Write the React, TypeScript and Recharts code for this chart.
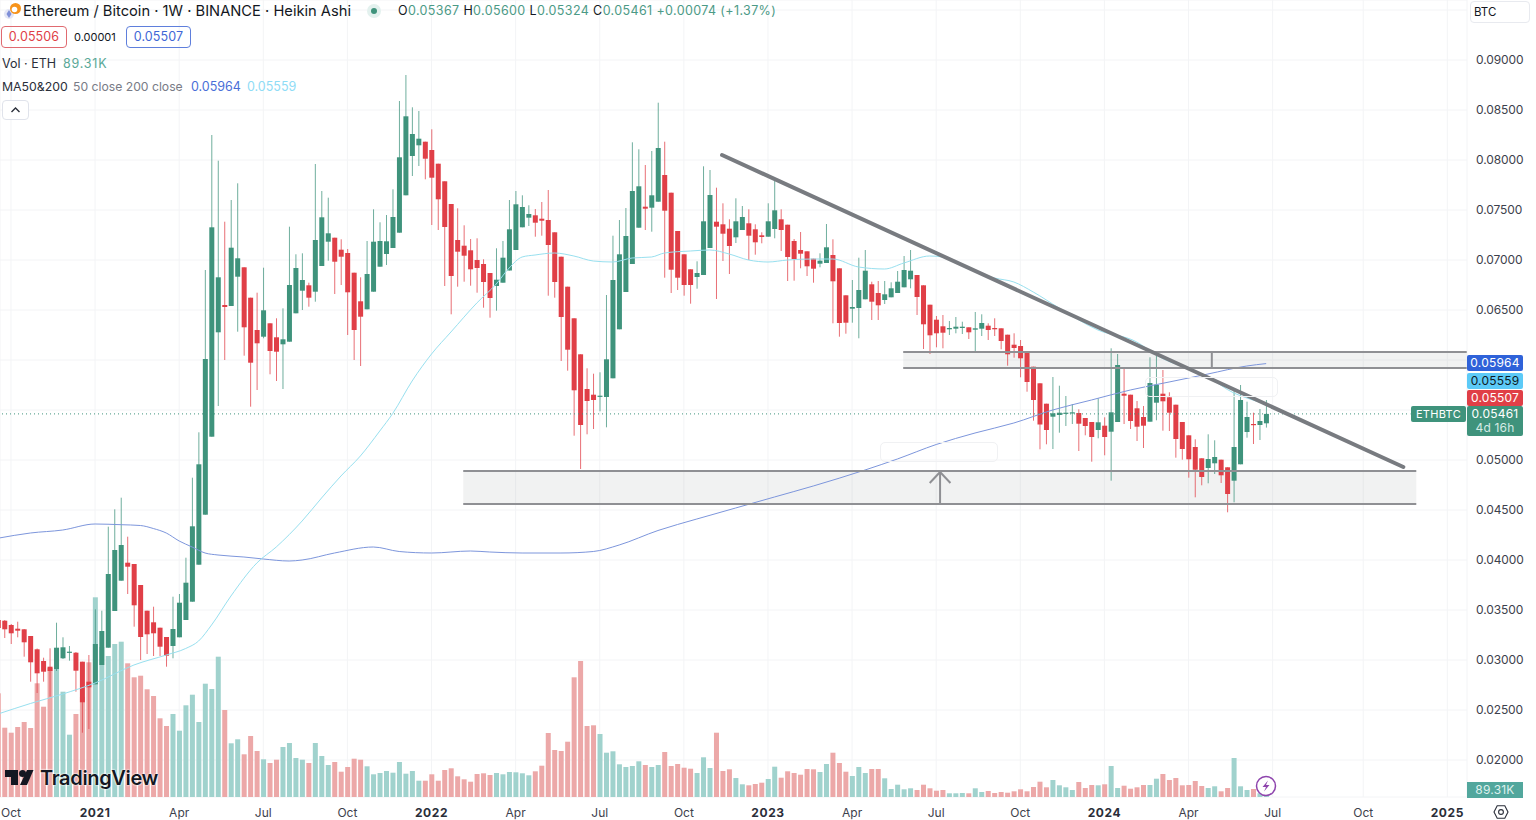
import React from "react";
import { ComposedChart, Bar, Line, XAxis, YAxis, CartesianGrid, ReferenceLine, ReferenceArea } from "recharts";

// Prices below are stored in units of 0.00001 BTC, one entry per week, first week = -1
const firstWeek = -1;
const opens = [3400,
3393,3350,3313,3307,3240,3107,2990,2933,2910,3017,
3073,3073,2983,2783,2757,2950,3123,3490,3793,3973,
3960,3750,3493,3377,3323,3230,3140,3227,3400,3583,
3953,4453,5233,6277,6550,6540,6833,6927,6623,6300,
6233,6367,6227,6157,6183,6467,6693,6747,6683,6940,
7183,7223,7103,7070,6873,6587,6507,6683,6933,7060,
7120,7273,7647,8040,8147,8183,8100,7963,7787,7560,
7200,7143,7097,7000,6960,6870,6740,6773,6895,7100,
7327,7423,7447,7413,7400,7277,7033,6733,6417,6057,
5710,5653,5633,5630,5817,6307,6680,6960,7323,7533,
7523,7583,7850,7673,7290,7057,6907,6830,6850,7120,
7383,7357,7313,7227,7300,7367,7307,7247,7233,7310,
7407,7353,7190,7100,7087,7013,6963,6970,7050,6917,
6647,6513,6520,6607,6757,6670,6600,6627,6670,6727,
6807,6850,6747,6553,6403,6337,6307,6313,6320,6327,
6303,6313,6343,6320,6317,6253,6153,6140,6077,5933,
5767,5563,5433,5450,5463,5467,5470,5420,5380,5300,
5343,5283,5380,5663,5653,5517,5430,5383,5573,5663,
5627,5553,5380,5247,5130,5017,4920,4967,5003,4927,
4793,4957,5280,5360,5350,5367];
const highs = [3480,
3400,3360,3383,3310,3240,3115,3023,3117,3373,3227,
3140,3080,2983,3050,3507,3493,4333,4507,4623,4233,
3960,3750,3493,3533,3323,3230,3633,3660,4023,4823,
5277,6900,8250,7993,7383,7600,7767,6927,6623,6673,
6923,6367,6417,6517,7333,7057,7067,6773,7960,7690,
7623,7223,7207,7110,6873,6827,7190,7507,7377,7450,
7707,8590,8850,8527,8490,8183,8307,7963,7787,7560,
7517,7347,7210,7217,7007,6870,7117,7190,7600,7690,
7647,7547,7510,7580,7700,7277,7033,6733,6417,6057,
5917,5863,5877,6650,7243,7400,7520,8177,8107,7950,
8090,8573,8183,7673,7290,7057,6907,6987,7937,7900,
7723,7567,7407,7617,7540,7507,7357,7277,7567,7800,
7507,7353,7210,7280,7087,7013,7067,7360,7207,6917,
6647,6800,7023,7100,6783,6790,6790,6777,6890,7040,
7100,6850,6747,6553,6440,6450,6390,6430,6383,6327,
6480,6457,6367,6417,6317,6253,6267,6200,6077,5933,
5767,5563,5830,5743,5640,5560,5507,5420,5380,5617,
5427,6117,6060,5927,5653,5590,5540,6027,6040,5900,
5677,5553,5380,5247,5207,5017,5257,5197,5003,4927,
5710,5750,5583,5473,5510,5600];
const lows = [3280,
3220,3160,3227,3033,2783,2670,2783,2633,2890,3010,
2993,2683,2273,2310,2757,2950,3123,3490,3793,3660,
3333,3000,3060,3040,3040,2933,3017,3227,3400,3583,
3953,4453,5233,5540,6000,6540,6283,6043,5533,5700,
6217,5857,5790,5710,6183,6467,6500,6533,6583,6940,
6993,6660,6750,6250,6000,5940,6507,6683,6933,6950,
7120,7273,7647,7840,7940,7807,7350,7300,6740,6457,
6733,6783,6743,6673,6523,6423,6493,6773,6895,7100,
7327,7340,7233,7243,6643,6623,5990,5893,5243,4910,
5257,5310,5487,5327,5817,6307,6680,6960,7323,7300,
7283,7583,6823,6670,6700,6643,6563,6713,6850,7120,
6610,6990,6860,7170,7300,7000,7053,7167,7233,7217,
7090,6790,6793,6917,6840,6773,6927,6970,6367,6233,
6263,6373,6217,6607,6400,6400,6560,6627,6670,6727,
6717,6450,6110,6060,6127,6117,6250,6267,6260,6210,
6077,6240,6200,6240,6107,5943,6023,5827,5683,5393,
5107,5157,5110,5273,5340,5360,5090,5247,4983,5217,
5047,4793,5380,5360,5310,5190,5120,5383,5397,5293,
5290,5023,5003,4823,4627,4747,4767,4860,4770,4477,
4577,4957,5223,5160,5200,5324];
const closes = [3320,
3307,3267,3293,3177,2977,2867,2883,2890,3123,3127,
3083,2893,2577,2727,3160,3290,3860,4100,4150,3933,
3547,3230,3257,3267,3133,3043,3310,3573,3773,4337,
4957,6010,7327,6827,6530,7123,7017,6327,5973,6167,
6497,6090,6083,6207,6750,6920,6800,6623,7200,7427,
7267,6983,7033,6677,6300,6433,6860,7183,7190,7187,
7430,8027,8437,8260,8213,8013,7823,7607,7330,6840,
7083,7043,6907,6920,6780,6620,6803,7023,7307,7557,
7530,7460,7373,7393,7150,6780,6430,6103,5697,5350,
5590,5600,5643,6007,6800,7057,7240,7690,7737,7513,
7647,8120,7493,6903,6823,6750,6750,6870,7387,7650,
7333,7263,7140,7387,7430,7243,7177,7230,7387,7497,
7300,7030,7010,7063,6937,6913,6993,7127,6787,6370,
6373,6530,6700,6893,6583,6547,6657,6717,6783,6900,
6893,6630,6357,6247,6267,6273,6320,6333,6333,6277,
6317,6370,6300,6307,6190,6057,6120,6017,5780,5600,
5355,5300,5467,5473,5473,5477,5363,5340,5230,5377,
5230,5477,5950,5643,5390,5333,5343,5770,5753,5587,
5473,5210,5110,5007,4903,4830,5010,5030,4847,4660,
5130,5600,5430,5350,5390,5461];
// Volume in thousands of ETH
const volumes = [3111,
2079,1929,2100,2250,2070,3411,2709,3870,3840,3159,
1869,2490,3000,4041,5991,4500,4230,4590,4659,4011,
3591,3639,3231,3030,2361,2130,2490,1989,2751,3069,
2250,3399,3240,4209,2610,1611,1731,1281,1830,1380,
1131,1020,1119,1500,1620,1170,1119,1020,1620,1230,
960,1050,759,900,1149,1119,921,681,720,780,
729,1050,699,780,489,489,681,489,810,861,
621,531,459,690,711,660,720,681,750,741,
711,651,771,939,1920,1410,1380,1659,3591,4080,
2130,2151,1890,1329,1371,981,900,930,1071,960,
900,960,1350,930,990,879,849,720,1191,870,
1929,780,831,570,381,351,390,429,540,909,
579,771,720,669,840,831,750,990,1329,1020,
759,630,900,720,840,840,561,240,369,231,
261,210,369,261,189,210,111,111,120,111,
261,150,180,120,150,129,171,231,171,300,
459,291,510,351,291,210,450,270,360,351,
381,930,270,339,249,291,360,360,549,690,
510,570,351,360,480,330,270,321,171,270,
1170,321,210,240,111,89.31];

// Moving averages as read at selected weeks
const maBlueWeeks = [-1,4,9,14,18,21,23,25,27,29,31,33,37,40,44,46,51,57,61,66,72,75,80,86,91,95,101,107,113,119,125,133,138,144,150,156,162,168,174,180,186,192,195];
const maBlueValues = [4218,4270,4300,4360,4353,4345,4315,4270,4190,4130,4070,4050,4030,4010,3990,4000,4070,4130,4085,4070,4090,4080,4070,4070,4085,4150,4295,4410,4520,4630,4740,4900,5010,5155,5270,5370,5500,5600,5700,5780,5860,5940,5964];
const maCyanWeeks = [-1,4,9,14,20,25,28,30,32,35,39,42,46,49,52,55,58,60,63,66,69,73,76,78,80,82,85,88,91,94,97,100,102,106,109,112,115,118,121,125,128,132,136,139,143,145,149,153,156,159,163,169,175,178,186,190,192,195];
const maCyanValues = [2460,2565,2660,2770,2950,3050,3115,3190,3350,3640,3970,4130,4390,4620,4840,5040,5290,5465,5790,6060,6280,6570,6760,6920,7030,7050,7070,7040,6990,6980,7020,7030,7070,7090,7100,7060,7000,6980,7000,7010,7010,6930,6910,6970,7040,7030,6910,6820,6780,6680,6520,6300,6180,6050,5830,5670,5620,5559];

const xTickWeeks = [1,14,27,40,53,66,79,92,105,118,131,144,157,170,183,196,210,223];
const xTickLabels = ["Oct","2021","Apr","Jul","Oct","2022","Apr","Jul","Oct","2023","Apr","Jul","Oct","2024","Apr","Jul","Oct","2025"];
const yTicks = [0.02,0.025,0.03,0.035,0.04,0.045,0.05,0.055,0.06,0.065,0.07,0.075,0.08,0.085,0.09,0.095];
// Grid levels whose axis label is covered by a price tag or the symbol button
const yTicksCovered = [0.055,0.06,0.095];

const candleTable = opens.map((o, k) => ({
  week: firstWeek + k,
  open: o / 1e5, high: highs[k] / 1e5, low: lows[k] / 1e5, close: closes[k] / 1e5,
  volume: volumes[k],
}));
const maBlueTable = maBlueWeeks.map((w, k) => ({ week: w, ma: maBlueValues[k] / 1e5 }));
const maCyanTable = maCyanWeeks.map((w, k) => ({ week: w, ma: maCyanValues[k] / 1e5 }));

const GREEN = "#3f937c";
const RED = "#e03f47";
const VOL_GREEN = "#a0d2cd";
const VOL_RED = "#eca8a8";
const DRAW = "#787b80";
const ZONE = "#8f9094";
const FONT = "Inter, 'Noto Sans', sans-serif";

const xDomain: [number, number] = [-0.6955, 226.04];
const priceDomain: [number, number] = [0.0163, 0.096];
const volDomain: [number, number] = [0, 23910];

function Candle(props: any) {
  const { x, y, width, height, payload } = props;
  const h = Math.abs(height);
  const top = height < 0 ? y + height : y;
  const { open, close, high, low } = payload;
  const ppu = h / (high - low);
  const bodyTop = top + (high - Math.max(open, close)) * ppu;
  const bodyH = Math.max(1.2, Math.abs(open - close) * ppu);
  const color = close >= open ? GREEN : RED;
  const cx = x + width / 2;
  return (
    <g>
      <line x1={cx} x2={cx} y1={top} y2={top + h} stroke={color} strokeOpacity={0.75} strokeWidth={1} />
      <rect x={x} y={bodyTop} width={width} height={bodyH} fill={color} />
    </g>
  );
}

function VolumeBar(props: any) {
  const { x, y, width, height, payload } = props;
  return <rect x={x} y={y} width={width} height={height} fill={payload.close >= payload.open ? VOL_GREEN : VOL_RED} />;
}

function XTick(props: any) {
  const { x, y, payload } = props;
  const label = xTickLabels[xTickWeeks.indexOf(payload.value)];
  const bold = /^\d+$/.test(label);
  return (
    <text x={x} y={y} dy={11.5} textAnchor="middle" fontFamily={FONT} fontSize={12} fontWeight={bold ? 700 : 400} fill={bold ? "#2a2e39" : "#3d414c"} letterSpacing={bold ? 0.6 : 0}>
      {label}
    </text>
  );
}

function YTick(props: any) {
  const { x, y, payload } = props;
  if (yTicksCovered.includes(payload.value)) return <g />;
  return (
    <text x={x} y={y} dy={3.6} textAnchor="start" fontFamily={FONT} fontSize={12} fill="#3d414c" letterSpacing={-0.1}>
      {Number(payload.value).toFixed(5)}
    </text>
  );
}

const box = (l: number, t: number, w: number, h: number, extra: any = {}): React.CSSProperties => ({
  position: "absolute", left: l, top: t, width: w, height: h, boxSizing: "border-box", ...extra,
});
const txt = (l: number, cy: number, size: number, color: string, extra: any = {}): React.CSSProperties => ({
  position: "absolute", left: l, top: cy - 10, height: 20, lineHeight: "20px", fontSize: size, color, whiteSpace: "nowrap", ...extra,
});
const priceBox = (t: number, h: number, bg: string, color: string, text: string) => (
  <div style={box(1467, t, 56, h, { background: bg, color, fontSize: 12, lineHeight: h + "px", textAlign: "center", borderRadius: 2, letterSpacing: 0.2 })}>{text}</div>
);

export default function App() {
  return (
    <div style={{ position: "absolute", left: 0, top: 0, width: 1536, height: 820, background: "#fff", overflow: "hidden", fontFamily: FONT }}>
      <ComposedChart width={1536} height={820} data={candleTable} margin={{ top: 0, right: 0, bottom: 0, left: 0 }}>
        <CartesianGrid stroke="#f3f4f6" strokeWidth={1} />
        <XAxis dataKey="week" type="number" domain={xDomain} allowDataOverflow ticks={xTickWeeks} interval={0} height={23} axisLine={false} tickLine={false} tick={<XTick />} />
        <XAxis xAxisId="volX" dataKey="week" type="number" domain={xDomain} allowDataOverflow hide />
        <YAxis orientation="right" type="number" domain={priceDomain} allowDataOverflow ticks={yTicks} interval={0} width={69} axisLine={false} tickLine={false} tickMargin={3} tick={<YTick />} />
        <YAxis yAxisId="volY" type="number" domain={volDomain} allowDataOverflow hide />

        <Bar xAxisId="volX" yAxisId="volY" dataKey="volume" barSize={5} shape={<VolumeBar />} isAnimationActive={false} />
        <Bar dataKey={(d: any) => [d.low, d.high]} barSize={5} shape={<Candle />} isAnimationActive={false} />

        <Line data={maBlueTable} dataKey="ma" type="monotone" stroke="#7d96dc" strokeWidth={1} dot={false} activeDot={false} isAnimationActive={false} />
        <Line data={maCyanTable} dataKey="ma" type="monotone" stroke="#98e0ef" strokeWidth={1} dot={false} activeDot={false} isAnimationActive={false} />

        <ReferenceLine stroke="#3f937c" strokeDasharray="1 3" segment={[{ x: -1, y: 0.05461 }, { x: 217.3, y: 0.05461 }]} ifOverflow="visible" />
        <ReferenceArea x1={138.9} x2={226} y1={0.0592} y2={0.0608} fill={ZONE} fillOpacity={0.12} stroke="none" />
        <ReferenceArea x1={70.9} x2={218.2} y1={0.0456} y2={0.0489} fill={ZONE} fillOpacity={0.12} stroke="none" />
        <ReferenceLine segment={[{ x: 138.9, y: 0.0608 }, { x: 226, y: 0.0608 }]} stroke={ZONE} strokeWidth={2} />
        <ReferenceLine segment={[{ x: 138.9, y: 0.0592 }, { x: 226, y: 0.0592 }]} stroke={ZONE} strokeWidth={2} />
        <ReferenceLine segment={[{ x: 70.9, y: 0.0489 }, { x: 218.2, y: 0.0489 }]} stroke={ZONE} strokeWidth={2} />
        <ReferenceLine segment={[{ x: 70.9, y: 0.0456 }, { x: 218.2, y: 0.0456 }]} stroke={ZONE} strokeWidth={2} />
        <ReferenceLine segment={[{ x: 186.6, y: 0.0608 }, { x: 186.6, y: 0.0592 }]} stroke={ZONE} strokeWidth={2} />
        <ReferenceLine segment={[{ x: 144.6, y: 0.0456 }, { x: 144.6, y: 0.0488 }]} stroke={ZONE} strokeWidth={2} />
        <ReferenceLine segment={[{ x: 143, y: 0.0477 }, { x: 144.6, y: 0.0488 }]} stroke={ZONE} strokeWidth={2} />
        <ReferenceLine segment={[{ x: 146.2, y: 0.0477 }, { x: 144.6, y: 0.0488 }]} stroke={ZONE} strokeWidth={2} />
        <ReferenceLine segment={[{ x: 110.9, y: 0.0805 }, { x: 216.2, y: 0.0493 }]} stroke={DRAW} strokeWidth={4} strokeLinecap="round" />
      </ComposedChart>

      {/* drawing text boxes */}
      <div style={box(880, 442, 118, 20, { border: "1px solid #f0f1f3", borderRadius: 5 })} />
      <div style={box(1145, 377, 133, 20, { border: "1px solid #f0f1f3", borderRadius: 5 })} />

      {/* legend */}
      <svg style={box(4, 2, 18, 20)} viewBox="0 0 18 20">
        <circle cx="5" cy="12" r="5" fill="#e4e6f5" />
        <path d="M5 8 L7.5 12 L5 16 L2.5 12 Z" fill="#7f8fd8" />
        <circle cx="11.5" cy="6.5" r="5.5" fill="#f7931a" />
        <circle cx="10.5" cy="7.5" r="2.8" fill="#fff" />
      </svg>
      <div style={txt(23, 11, 14.7, "#131722")}>Ethereum / Bitcoin · 1W · BINANCE · Heikin Ashi</div>
      <div style={box(367, 4, 14, 14, { borderRadius: 7, background: "#e3f1ee" })} />
      <div style={box(371, 8, 6, 6, { borderRadius: 3, background: "#3f937c" })} />
      <div style={txt(398, 11, 12.5, "#131722", { letterSpacing: 0.38 })}>
        O<span style={{ color: "#4c9a86" }}>0.05367</span>{" "}H<span style={{ color: "#4c9a86" }}>0.05600</span>{" "}
        L<span style={{ color: "#4c9a86" }}>0.05324</span>{" "}C<span style={{ color: "#4c9a86" }}>0.05461</span>{" "}
        <span style={{ color: "#4c9a86" }}>+0.00074 (+1.37%)</span>
      </div>
      <div style={box(1, 26, 66, 22, { border: "1px solid #e06a70", borderRadius: 4, color: "#e03f47", fontSize: 12.5, lineHeight: "20px", textAlign: "center", letterSpacing: 0.1 })}>0.05506</div>
      <div style={txt(74, 37, 11, "#131722")}>0.00001</div>
      <div style={box(126, 26, 65, 22, { border: "1px solid #5f7fdc", borderRadius: 4, color: "#3f67d6", fontSize: 12.5, lineHeight: "20px", textAlign: "center", letterSpacing: 0.1 })}>0.05507</div>
      <div style={txt(2, 64, 12.5, "#2a2e39")}>Vol · ETH</div>
      <div style={txt(63, 64, 12.5, "#5aa897", { letterSpacing: 0.8 })}>89.31K</div>
      <div style={txt(2, 87, 12.3, "#2a2e39")}>MA50&amp;200</div>
      <div style={txt(73, 87, 12.2, "#787b86")}>50 close 200 close</div>
      <div style={txt(191, 87, 12.5, "#4a6fd8")}>0.05964</div>
      <div style={txt(247, 87, 12.5, "#8fdcf6")}>0.05559</div>
      <div style={box(2, 100, 27, 20, { border: "1px solid #e0e3eb", borderRadius: 4, background: "#fff" })}>
        <svg width="25" height="18" viewBox="0 0 25 18"><path d="M8.5 11 L12.5 7 L16.5 11" fill="none" stroke="#2a2e39" strokeWidth="1.4" /></svg>
      </div>

      {/* top right symbol */}
      <div style={box(1470, 1, 60, 22, { border: "1px solid #e8eaef", borderRadius: 4, background: "#fff" })} />
      <div style={txt(1474, 12, 11.5, "#131722")}>BTC</div>

      {/* axis price labels */}
      {priceBox(355, 16, "#2f62d9", "#fff", "0.05964")}
      {priceBox(373, 16, "#5ccaf7", "#0e1a24", "0.05559")}
      {priceBox(389.5, 16, "#e03f47", "#fff", "0.05507")}
      <div style={box(1467, 405.5, 56, 30, { background: "#3f937c", color: "#fff", fontSize: 12, textAlign: "center", borderRadius: 2, lineHeight: "14px", paddingTop: 1, letterSpacing: 0.2 })}>
        0.05461<br /><span style={{ color: "#d6ebe5" }}>4d 16h</span>
      </div>
      <div style={box(1411, 405.5, 55, 16, { background: "#3f937c", color: "#fff", fontSize: 11, lineHeight: "16px", textAlign: "center", borderRadius: 2, letterSpacing: 0.3 })}>ETHBTC</div>
      <div style={box(1467, 782, 56, 16, { background: "#52a79d", color: "#dff1ee", fontSize: 12, lineHeight: "16px", textAlign: "center", letterSpacing: 0.2 })}>89.31K</div>

      {/* watermark */}
      <svg style={box(5, 770, 29, 16)} viewBox="0 0 29 16">
        <path d="M0 0 H13 V15 H6 V7 H0 Z" fill="#131722" />
        <circle cx="17.5" cy="3.5" r="3.5" fill="#131722" />
        <path d="M22 0 H28.5 L22 15 H15 Z" fill="#131722" />
      </svg>
      <div style={txt(40, 778, 20, "#131722", { fontWeight: 600, letterSpacing: -0.35, textShadow: "0 0 2px #fff, 0 0 2px #fff" })}>TradingView</div>

      {/* lightning */}
      <svg style={box(1255, 775, 22, 22)} viewBox="0 0 22 22">
        <circle cx="11" cy="11" r="9.5" fill="#fff" stroke="#8e44ad" strokeWidth="1.5" />
        <path d="M13 5.5 L7.5 12 H11 L9 16.5 L14.5 10 H11 Z" fill="#8e44ad" />
      </svg>
      {/* settings */}
      <svg style={box(1493, 804, 16, 16)} viewBox="0 0 16 16">
        <path d="M4.2 1.8 H11.8 L15 8 L11.8 14.2 H4.2 L1 8 Z" fill="none" stroke="#2a2e39" strokeWidth="1.1" />
        <circle cx="8" cy="8" r="2.4" fill="none" stroke="#2a2e39" strokeWidth="1.1" />
      </svg>
    </div>
  );
}
